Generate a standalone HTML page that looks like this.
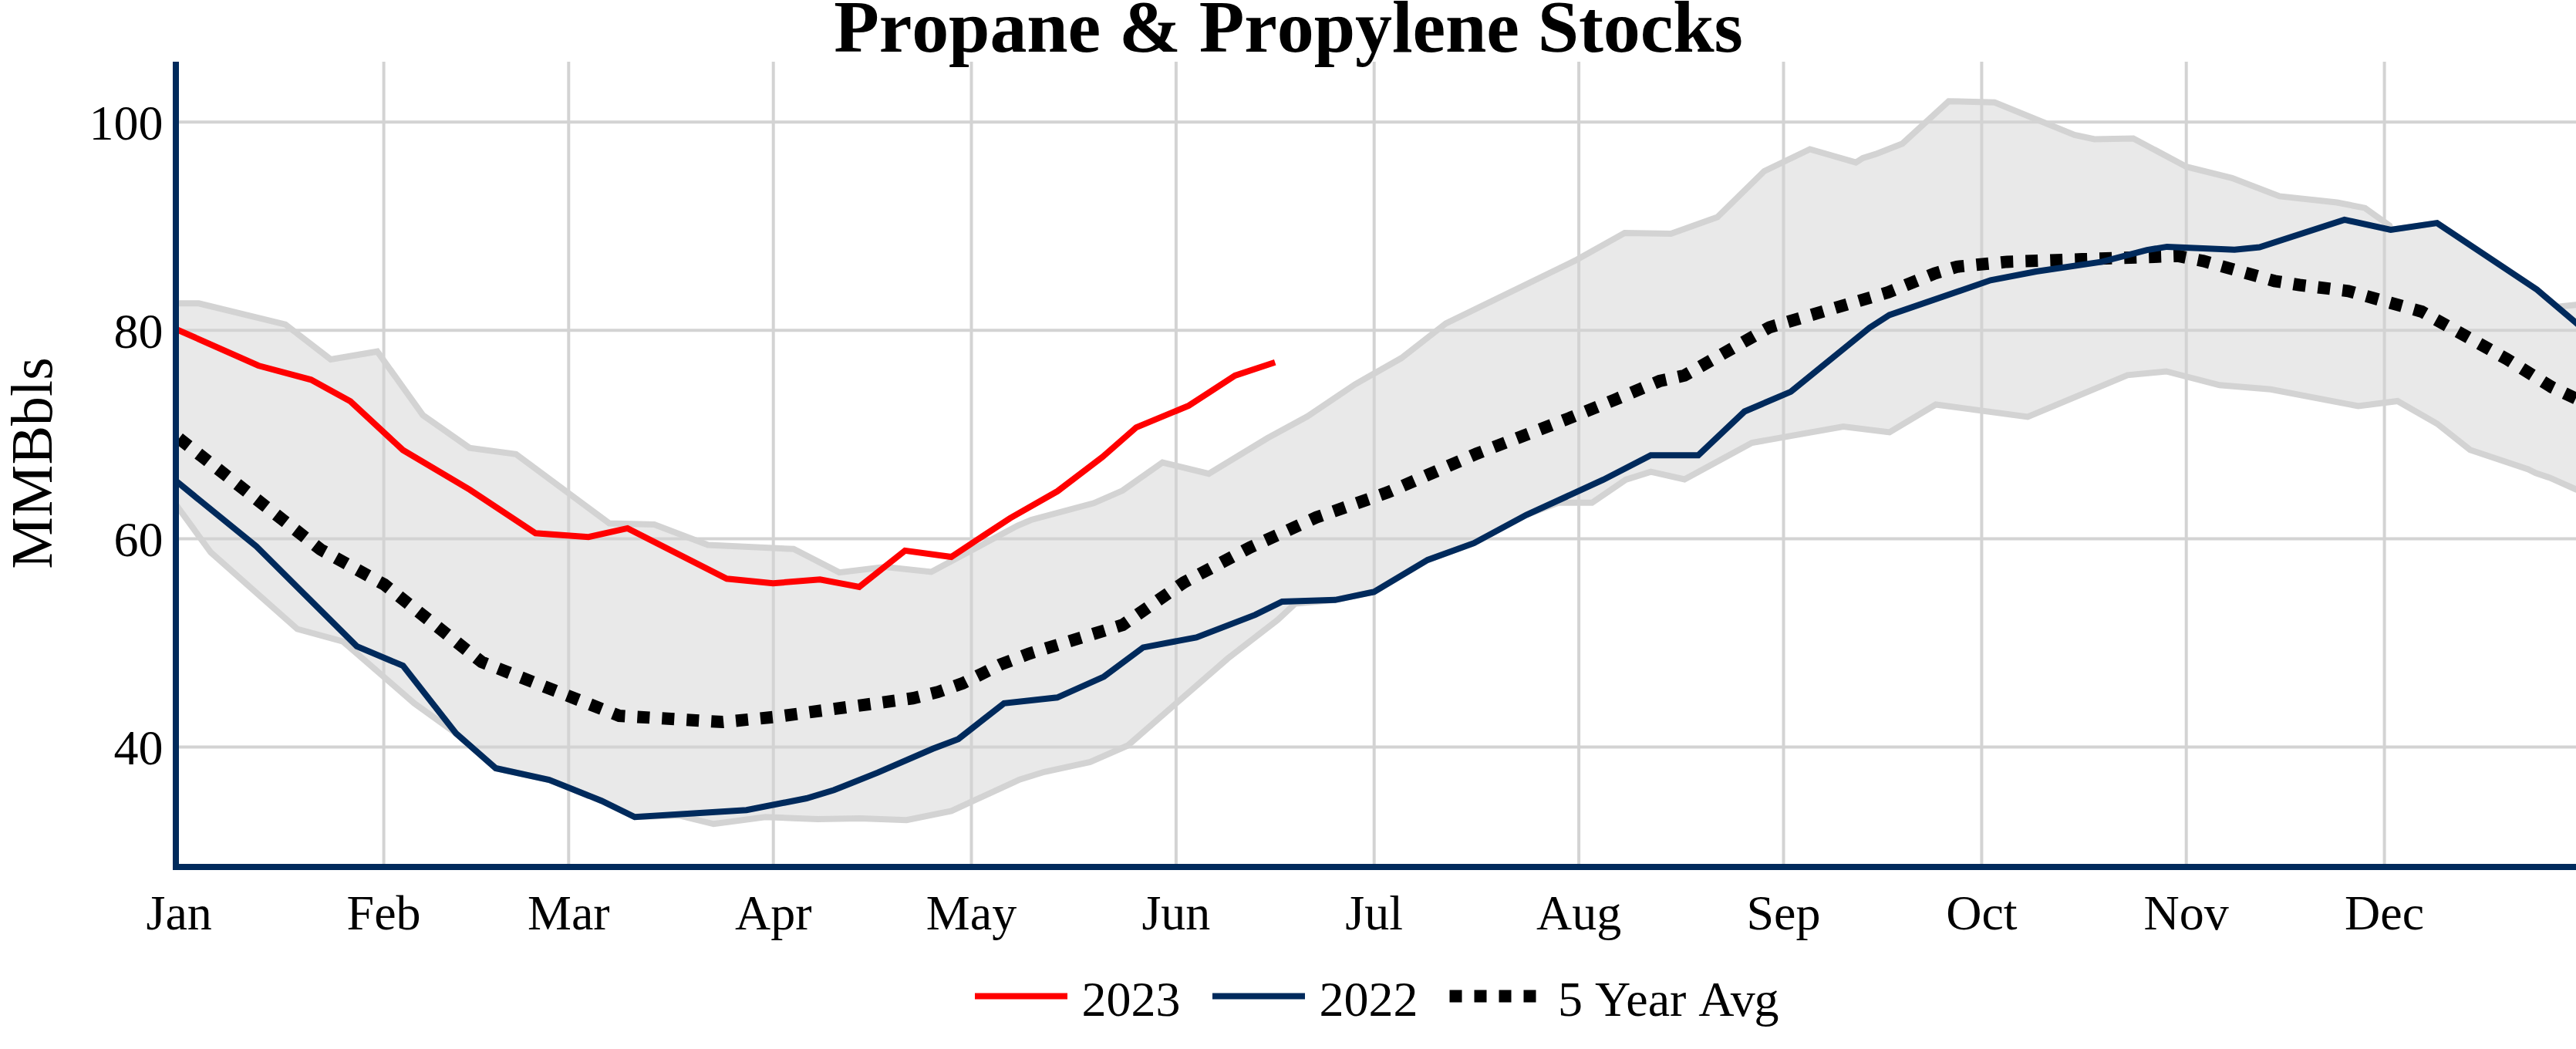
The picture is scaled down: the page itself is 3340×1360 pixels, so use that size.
<!DOCTYPE html>
<html lang="en"><head><meta charset="utf-8"><title>Propane &amp; Propylene Stocks</title>
<style>
html,body{margin:0;padding:0;background:#fff;}
body{width:3340px;height:1360px;overflow:hidden;}
svg{display:block;}
text{font-kerning:none;font-family:"Liberation Serif","Times New Roman",Times,serif;fill:#000;}
.tick{font-size:64px;}
</style></head><body>
<svg width="3340" height="1360" viewBox="0 0 3340 1360">
<rect x="0" y="0" width="3340" height="1360" fill="#fff"/>
<defs><clipPath id="plot"><rect x="232" y="80" width="3108" height="1040"/></clipPath></defs>

<g stroke="#d3d3d3" stroke-width="4" fill="none">
<line x1="497.6" y1="80" x2="497.6" y2="1120"/>
<line x1="737.3" y1="80" x2="737.3" y2="1120"/>
<line x1="1002.7" y1="80" x2="1002.7" y2="1120"/>
<line x1="1259.5" y1="80" x2="1259.5" y2="1120"/>
<line x1="1524.9" y1="80" x2="1524.9" y2="1120"/>
<line x1="1781.7" y1="80" x2="1781.7" y2="1120"/>
<line x1="2047.1" y1="80" x2="2047.1" y2="1120"/>
<line x1="2312.5" y1="80" x2="2312.5" y2="1120"/>
<line x1="2569.4" y1="80" x2="2569.4" y2="1120"/>
<line x1="2834.7" y1="80" x2="2834.7" y2="1120"/>
<line x1="3091.6" y1="80" x2="3091.6" y2="1120"/>
<line x1="232" y1="158.3" x2="3340" y2="158.3"/>
<line x1="232" y1="428.3" x2="3340" y2="428.3"/>
<line x1="232" y1="698.5" x2="3340" y2="698.5"/>
<line x1="232" y1="968.5" x2="3340" y2="968.5"/>
</g>
<g clip-path="url(#plot)" fill="none" stroke-linejoin="miter">
<polygon points="226.0,393.3 232.0,393.3 257.7,393.3 370.0,420.6 428.8,466.0 489.2,455.7 548.4,538.4 608.7,580.6 669.0,588.9 790.0,678.5 848.3,680.0 918.0,706.6 1029.0,711.8 1088.2,742.1 1147.5,735.0 1207.5,741.5 1319.3,681.5 1337.1,674.0 1418.2,652.3 1455.4,636.1 1507.3,599.5 1567.3,614.1 1643.4,568.0 1695.3,539.8 1756.9,498.3 1816.9,464.3 1874.6,419.4 2042.6,337.7 2106.5,302.0 2166.5,303.0 2226.7,281.6 2287.4,222.0 2346.7,193.5 2406.3,210.6 2415.4,204.8 2431.6,199.9 2466.6,186.3 2526.6,131.2 2586.2,132.8 2689.8,175.0 2715.7,180.5 2766.0,179.5 2835.0,216.2 2894.0,230.8 2955.6,254.4 3030.1,262.5 3066.4,269.7 3098.2,292.4 3099.8,297.9 3159.8,289.1 3289.3,375.5 3315.5,397.7 3340.0,395.2 3352.0,394.0 3352.0,639.8 3340.0,634.5 3305.6,619.2 3287.8,613.4 3278.1,608.5 3202.6,583.2 3159.8,549.2 3108.6,520.0 3057.7,526.5 2944.2,504.8 2877.8,499.3 2808.7,481.5 2758.5,486.3 2629.1,540.5 2509.9,524.5 2449.9,560.4 2390.0,553.0 2271.6,574.0 2184.1,621.4 2140.4,611.6 2107.9,622.0 2064.2,651.8 2020.4,651.8 1979.1,667.6 1911.0,704.2 1851.1,725.9 1781.4,767.4 1731.1,777.8 1679.3,782.6 1656.6,803.7 1591.7,853.9 1462.3,966.5 1413.5,987.9 1354.0,1000.8 1322.0,1010.7 1233.6,1051.4 1175.4,1063.2 1115.4,1061.0 1060.3,1061.9 992.2,1059.3 925.3,1068.3 880.0,1057.2 823.0,1059.3 779.9,1038.2 712.0,1011.0 642.8,996.0 591.2,950.7 537.1,911.8 444.7,831.7 385.4,815.5 273.2,716.0 232.0,659.5 226.0,651.3" fill="#d3d3d3" fill-opacity="0.5" stroke="none"/>
<path d="M226.0 651.3 L232.0 659.5 L273.2 716.0 L385.4 815.5 L444.7 831.7 L537.1 911.8 L591.2 950.7 L642.8 996.0 L712.0 1011.0 L779.9 1038.2 L823.0 1059.3 L880.0 1057.2 L925.3 1068.3 L992.2 1059.3 L1060.3 1061.9 L1115.4 1061.0 L1175.4 1063.2 L1233.6 1051.4 L1322.0 1010.7 L1354.0 1000.8 L1413.5 987.9 L1462.3 966.5 L1591.7 853.9 L1656.6 803.7 L1679.3 782.6 L1731.1 777.8 L1781.4 767.4 L1851.1 725.9 L1911.0 704.2 L1979.1 667.6 L2020.4 651.8 L2064.2 651.8 L2107.9 622.0 L2140.4 611.6 L2184.1 621.4 L2271.6 574.0 L2390.0 553.0 L2449.9 560.4 L2509.9 524.5 L2629.1 540.5 L2758.5 486.3 L2808.7 481.5 L2877.8 499.3 L2944.2 504.8 L3057.7 526.5 L3108.6 520.0 L3159.8 549.2 L3202.6 583.2 L3278.1 608.5 L3287.8 613.4 L3305.6 619.2 L3340.0 634.5 L3352.0 639.8" stroke="#d3d3d3" stroke-width="8"/>
<path d="M226.0 393.3 L232.0 393.3 L257.7 393.3 L370.0 420.6 L428.8 466.0 L489.2 455.7 L548.4 538.4 L608.7 580.6 L669.0 588.9 L790.0 678.5 L848.3 680.0 L918.0 706.6 L1029.0 711.8 L1088.2 742.1 L1147.5 735.0 L1207.5 741.5 L1319.3 681.5 L1337.1 674.0 L1418.2 652.3 L1455.4 636.1 L1507.3 599.5 L1567.3 614.1 L1643.4 568.0 L1695.3 539.8 L1756.9 498.3 L1816.9 464.3 L1874.6 419.4 L2042.6 337.7 L2106.5 302.0 L2166.5 303.0 L2226.7 281.6 L2287.4 222.0 L2346.7 193.5 L2406.3 210.6 L2415.4 204.8 L2431.6 199.9 L2466.6 186.3 L2526.6 131.2 L2586.2 132.8 L2689.8 175.0 L2715.7 180.5 L2766.0 179.5 L2835.0 216.2 L2894.0 230.8 L2955.6 254.4 L3030.1 262.5 L3066.4 269.7 L3098.2 292.4 L3099.8 297.9 L3159.8 289.1 L3289.3 375.5 L3315.5 397.7 L3340.0 395.2 L3352.0 394.0" stroke="#d3d3d3" stroke-width="8"/>
<path d="M206.8 548.7 L232.0 568.4 L415.6 712.4 L498.2 757.8 L624.6 858.3 L802.9 928.0 L937.0 936.1 L1003.0 929.7 L1183.5 905.3 L1215.9 897.2 L1248.3 885.9 L1297.0 861.6 L1334.0 847.5 L1455.6 810.2 L1535.0 755.1 L1620.9 709.7 L1706.8 670.8 L1799.2 638.4 L1915.1 588.0 L2033.4 542.6 L2093.4 518.3 L2151.7 494.0 L2184.1 486.8 L2294.3 424.3 L2448.3 378.9 L2508.3 354.6 L2537.4 345.8 L2602.2 339.4 L2699.5 336.1 L2793.5 332.9 L2824.3 331.9 L2856.7 338.4 L2949.1 364.3 L2981.5 369.5 L3044.7 377.3 L3140.0 404.0 L3250.0 465.3 L3308.0 501.6 L3340.0 516.8 L3352.0 522.5" stroke="#000" stroke-width="16" stroke-dasharray="16 16"/>
<path d="M226.0 621.8 L232.0 626.7 L332.5 708.5 L462.6 837.9 L522.5 863.1 L591.2 950.7 L642.8 996.0 L712.0 1011.0 L779.9 1038.2 L823.0 1059.3 L967.9 1050.2 L1045.7 1035.0 L1081.4 1024.3 L1138.1 1001.6 L1209.4 970.8 L1242.5 958.2 L1301.8 911.8 L1370.8 904.3 L1431.3 877.3 L1482.2 839.4 L1551.2 826.4 L1627.4 797.2 L1662.4 780.0 L1731.1 777.8 L1781.4 767.4 L1851.1 725.9 L1911.0 704.2 L1979.1 667.6 L2078.8 622.0 L2140.4 590.2 L2202.0 590.2 L2261.9 533.5 L2321.9 507.9 L2424.0 424.9 L2449.7 408.5 L2581.0 363.3 L2640.0 352.0 L2725.4 339.4 L2783.8 324.1 L2809.7 319.9 L2897.2 323.8 L2929.6 320.6 L3039.8 284.9 L3099.8 297.9 L3159.8 289.1 L3289.3 375.5 L3340.0 418.4 L3352.0 428.6" stroke="#002a5c" stroke-width="8"/>
<path d="M226.0 425.6 L232.0 428.3 L335.0 474.0 L403.3 492.3 L454.3 520.3 L522.4 583.5 L609.1 634.8 L694.3 691.3 L763.0 696.2 L813.6 684.9 L942.3 750.3 L1002.3 756.2 L1063.2 751.2 L1114.1 760.9 L1173.4 713.9 L1233.4 722.0 L1309.6 671.8 L1371.2 636.8 L1429.5 592.4 L1473.3 554.1 L1541.3 525.9 L1601.3 487.0 L1653.2 469.8" stroke="#ff0000" stroke-width="8"/>
</g>
<path d="M228 80 V1128" stroke="#002a5c" stroke-width="8" fill="none"/>
<path d="M224 1124 H3340" stroke="#002a5c" stroke-width="8" fill="none"/>
<text class="tick" x="232.2" y="1205" text-anchor="middle">Jan</text>
<text class="tick" x="497.6" y="1205" text-anchor="middle">Feb</text>
<text class="tick" x="737.3" y="1205" text-anchor="middle">Mar</text>
<text class="tick" x="1002.7" y="1205" text-anchor="middle">Apr</text>
<text class="tick" x="1259.5" y="1205" text-anchor="middle">May</text>
<text class="tick" x="1524.9" y="1205" text-anchor="middle">Jun</text>
<text class="tick" x="1781.7" y="1205" text-anchor="middle">Jul</text>
<text class="tick" x="2047.1" y="1205" text-anchor="middle">Aug</text>
<text class="tick" x="2312.5" y="1205" text-anchor="middle">Sep</text>
<text class="tick" x="2569.4" y="1205" text-anchor="middle">Oct</text>
<text class="tick" x="2834.7" y="1205" text-anchor="middle">Nov</text>
<text class="tick" x="3091.6" y="1205" text-anchor="middle">Dec</text>
<text class="tick" x="211.6" y="180.8" text-anchor="end">100</text>
<text class="tick" x="211.6" y="450.8" text-anchor="end">80</text>
<text class="tick" x="211.6" y="721.0" text-anchor="end">60</text>
<text class="tick" x="211.6" y="991.0" text-anchor="end">40</text>
<text x="1670.5" y="66.5" text-anchor="middle" font-size="96" font-weight="bold" letter-spacing="-0.1">Propane &amp; Propylene Stocks</text>
<text transform="translate(67.1,600.5) rotate(-90)" text-anchor="middle" font-size="76">MMBbls</text>
<line x1="1264" y1="1291.5" x2="1384" y2="1291.5" stroke="#ff0000" stroke-width="8"/>
<text class="tick" x="1402.6" y="1317">2023</text>
<line x1="1572" y1="1291.5" x2="1692" y2="1291.5" stroke="#002a5c" stroke-width="8"/>
<text class="tick" x="1710.5" y="1317">2022</text>
<line x1="1879.5" y1="1291.5" x2="1999.5" y2="1291.5" stroke="#000" stroke-width="16" stroke-dasharray="16 16"/>
<text class="tick" x="2020" y="1317" dx="0 0 0 -6 0 0 0 0 -4.7 -1.3">5 Year Avg</text>
</svg></body></html>
